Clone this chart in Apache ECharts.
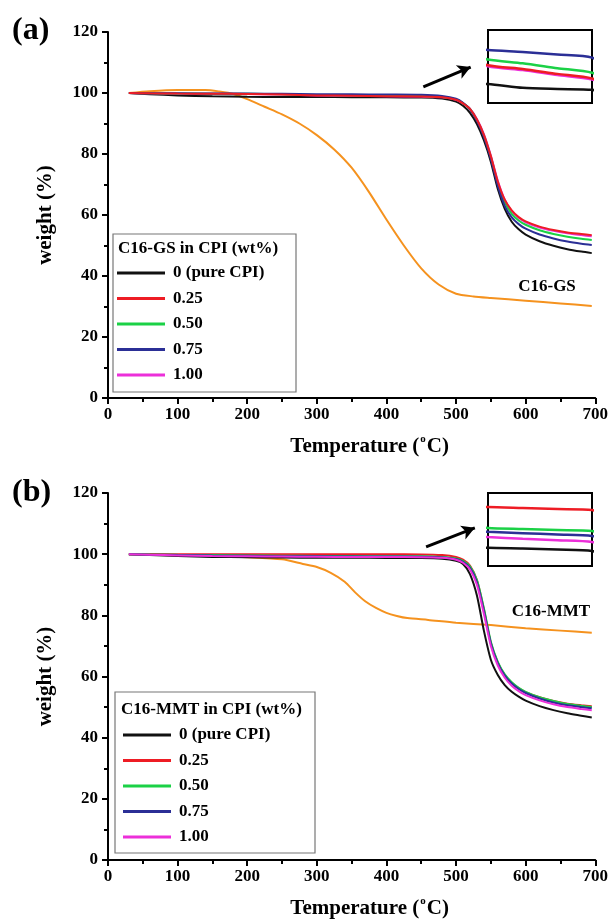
<!DOCTYPE html>
<html>
<head>
<meta charset="utf-8">
<script src="https://cdn.jsdelivr.net/npm/echarts@6/dist/echarts.min.js"></script>
<style>
  html, body { margin: 0; padding: 0; background: #fff; }
  #chart { width: 611px; height: 922px; }
</style>
</head>
<body>
<div id="chart"></div>
<script>
// temperature grid shared by the CPI curves (°C)
var temps = [30, 60, 100, 150, 200, 250, 300, 350, 400, 450, 480, 500, 510, 520, 530, 540, 550, 560, 570, 580, 590, 600, 620, 640, 660, 680, 695];

// (a) C16-GS in CPI, weight %
var gsCpi0   = [100, 99.6, 99.2, 98.9, 98.75, 98.72, 98.7, 98.6, 98.57, 98.55, 98.2, 97.2, 95.8, 93.5, 89.8, 84.5, 77.5, 68.5, 62, 57.8, 55.3, 53.6, 51.4, 49.9, 48.8, 48, 47.5];
var gsCpi025 = [100, 99.9, 99.8, 99.75, 99.7, 99.5, 99.2, 99.1, 98.97, 98.85, 98.6, 97.8, 96.6, 94.8, 91.3, 86.3, 79.3, 71, 65, 61.5, 59.3, 57.9, 56.2, 55.1, 54.3, 53.8, 53.4];
var gsCpi050 = [100, 99.88, 99.82, 99.78, 99.72, 99.55, 99.35, 99.25, 99.12, 99.0, 98.7, 97.9, 96.7, 94.8, 91.2, 86.1, 79, 70.5, 64.2, 60.4, 58.2, 56.8, 55, 53.8, 52.9, 52.2, 51.8];
var gsCpi075 = [100, 99.92, 99.88, 99.84, 99.8, 99.72, 99.6, 99.55, 99.48, 99.4, 99.0, 98.1, 96.8, 94.6, 90.9, 85.6, 78.4, 69.6, 63, 59.2, 57, 55.5, 53.6, 52.3, 51.3, 50.6, 50.2];
var gsCpi100 = [100, 99.9, 99.8, 99.74, 99.68, 99.48, 99.17, 99.07, 98.94, 98.82, 98.6, 97.8, 96.6, 94.9, 91.5, 86.5, 79.5, 71.2, 65, 61.3, 59.1, 57.6, 55.9, 54.8, 54.0, 53.4, 53.0];
var gsTemps  = [30, 60, 100, 140, 160, 180, 200, 225, 250, 275, 300, 325, 350, 375, 400, 425, 450, 475, 500, 525, 550, 600, 650, 695];
var gsPure   = [100, 100.6, 101, 101, 100.5, 99.7, 98, 95.5, 93, 90, 86.2, 81.5, 75.5, 67.5, 58.5, 50, 42.5, 37.2, 34.2, 33.3, 32.8, 31.9, 31, 30.2];

// (b) C16-MMT in CPI, weight %
var mmtCpi0   = [100, 99.7, 99.4, 99.1, 99.0, 98.9, 98.83, 98.81, 98.78, 98.74, 98.5, 97.8, 96.8, 93.5, 86.5, 75, 65.5, 60.5, 57.2, 55, 53.4, 52.1, 50.3, 49, 48, 47.2, 46.6];
var mmtCpi025 = [100, 100, 100, 100, 100, 100, 100.0, 99.97, 99.94, 99.91, 99.7, 99.1, 98.2, 96.3, 91.5, 82, 71, 64.5, 60.5, 58, 56.2, 54.9, 53.2, 52, 51.1, 50.6, 50.3];
var mmtCpi050 = [100, 99.9, 99.8, 99.7, 99.6, 99.5, 99.4, 99.37, 99.34, 99.31, 99.1, 98.6, 97.8, 96, 91.5, 82.3, 71.4, 64.8, 60.7, 58.1, 56.3, 55, 53.2, 52, 51, 50.4, 50.0];
var mmtCpi075 = [100, 99.85, 99.7, 99.55, 99.45, 99.35, 99.29, 99.25, 99.21, 99.17, 98.95, 98.4, 97.5, 95.5, 90.8, 81.5, 70.8, 64.3, 60.3, 57.7, 55.9, 54.6, 52.8, 51.5, 50.6, 50, 49.6];
var mmtCpi100 = [100, 99.8, 99.6, 99.4, 99.3, 99.2, 99.14, 99.09, 99.05, 99.0, 98.8, 98.2, 97.2, 95, 90, 80.5, 70, 63.6, 59.6, 57, 55.2, 53.9, 52.2, 50.9, 50, 49.4, 49.0];
var mmtTemps  = [30, 60, 100, 150, 200, 250, 280, 300, 320, 340, 355, 370, 385, 400, 415, 430, 460, 500, 550, 600, 650, 695];
var mmtPure   = [100, 99.9, 99.7, 99.4, 99, 98.3, 96.8, 95.8, 93.9, 91, 87.5, 84.5, 82.4, 80.8, 79.8, 79.1, 78.5, 77.6, 76.8, 75.8, 75, 74.3];

var names  = ['0 (pure CPI)', '0.25', '0.50', '0.75', '1.00'];
var colors = ['#111111', '#ee1c24', '#1bd146', '#2b2f96', '#ec2fd9'];
var orange = '#f5921e';

var FONT = 'Liberation Serif';

function pairs(xs, ys) {
  return xs.map(function (x, i) { return [x, ys[i]]; });
}

function line(name, color, xs, ys, axis, width, z) {
  return {
    name: name,
    type: 'line',
    xAxisIndex: axis,
    yAxisIndex: axis,
    data: pairs(xs, ys),
    symbol: 'none',
    smooth: 0.25,
    clip: true,
    z: z || 2,
    lineStyle: { color: color, width: width },
    itemStyle: { color: color }
  };
}

function mainX(grid) {
  return {
    gridIndex: grid, type: 'value', min: 0, max: 700, interval: 100,
    axisLine: { lineStyle: { color: '#000', width: 2 } },
    axisTick: { inside: false, length: 6, lineStyle: { width: 2 } },
    minorTick: { show: true, splitNumber: 2, length: 4, lineStyle: { color: '#000', width: 2 } },
    splitLine: { show: false },
    axisLabel: { color: '#000', fontFamily: FONT, fontWeight: 'bold', fontSize: 17, margin: 8 },
    name: '{n|Temperature (}{s|o}{n|C)}',
    nameLocation: 'middle',
    nameGap: 36,
    nameTextStyle: {
      padding: [0, 0, 0, 36],
      rich: {
        n: { fontFamily: FONT, fontWeight: 'bold', fontSize: 21, color: '#000' },
        s: { fontFamily: FONT, fontWeight: 'bold', fontSize: 11, color: '#000', padding: [0, 1, 14, 1] }
      }
    }
  };
}

function mainY(grid) {
  return {
    gridIndex: grid, type: 'value', min: 0, max: 120, interval: 20,
    axisLine: { show: true, lineStyle: { color: '#000', width: 2 } },
    axisTick: { show: true, inside: false, length: 6, lineStyle: { width: 2 } },
    minorTick: { show: true, splitNumber: 2, length: 4, lineStyle: { color: '#000', width: 2 } },
    splitLine: { show: false },
    axisLabel: { color: '#000', fontFamily: FONT, fontWeight: 'bold', fontSize: 17, margin: 10 },
    name: 'weight (%)',
    nameLocation: 'middle',
    nameGap: 52,
    nameTextStyle: { fontFamily: FONT, fontWeight: 'bold', fontSize: 21, color: '#000' }
  };
}

function insetAxis(grid, min, max) {
  return { gridIndex: grid, type: 'value', min: min, max: max, show: false, splitLine: { show: false } };
}

function arrow(from, to) {
  return {
    silent: true,
    symbol: ['none', 'arrow'],
    symbolSize: [11, 13],
    label: { show: false },
    lineStyle: { color: '#000', width: 3, type: 'solid' },
    data: [[{ coord: from }, { coord: to }]]
  };
}

var seriesList = [];
// panel (a)
var gsSets = [gsCpi0, gsCpi100, gsCpi050, gsCpi075, gsCpi025];
var gsIdx = [0, 4, 2, 3, 1];
gsSets.forEach(function (vals, k) {
  var i = gsIdx[k];
  seriesList.push(line(names[i], colors[i], temps, vals, 0, 2));
  seriesList.push(line(names[i], colors[i], temps, vals, 1, 2.5));
});
var gsOrange = line('C16-GS', orange, gsTemps, gsPure, 0, 2, 1);
gsOrange.markLine = arrow([453, 102], [521, 108.5]);
seriesList.push(gsOrange);

// panel (b)
var mmtSets = [mmtCpi0, mmtCpi025, mmtCpi050, mmtCpi075, mmtCpi100];
mmtSets.forEach(function (vals, i) {
  seriesList.push(line(names[i], colors[i], temps, vals, 2, 2));
  seriesList.push(line(names[i], colors[i], temps, vals, 3, 2.5));
});
var mmtOrange = line('C16-MMT', orange, mmtTemps, mmtPure, 2, 2, 1);
mmtOrange.markLine = arrow([457, 102.4], [527, 108.6]);
seriesList.push(mmtOrange);

function legend(left, top) {
  return {
    data: names,
    orient: 'vertical',
    left: left,
    top: top,
    padding: 0,
    icon: 'rect',
    itemWidth: 48,
    itemHeight: 3,
    itemGap: 7.5,
    selectedMode: false,
    textStyle: { fontFamily: FONT, fontWeight: 'bold', fontSize: 17, lineHeight: 18, color: '#000', padding: [0, 0, 0, 3] }
  };
}

function label(text, x, y, size, align) {
  return {
    type: 'text', x: x, y: y, z: 10,
    style: { text: text, fill: '#000', font: 'bold ' + size + 'px "' + FONT + '"', align: align || 'left', verticalAlign: 'middle' }
  };
}

var chart = echarts.init(document.getElementById('chart'), null, { renderer: 'canvas' });
chart.setOption({
  animation: false,
  backgroundColor: '#fff',
  grid: [
    { left: 108, top: 32, width: 490, height: 366 },
    { left: 488, top: 30, width: 104, height: 73, show: true, borderColor: '#000', borderWidth: 2, backgroundColor: '#fff' },
    { left: 108, top: 493, width: 490, height: 367 },
    { left: 488, top: 493, width: 104, height: 73, show: true, borderColor: '#000', borderWidth: 2, backgroundColor: '#fff' }
  ],
  xAxis: [mainX(0), insetAxis(1, 300, 450), mainX(2), insetAxis(3, 300, 450)],
  yAxis: [mainY(0), insetAxis(1, 98.2, 100.13), mainY(2), insetAxis(3, 98.31, 100.4)],
  legend: [legend(117, 264), legend(123, 726)],
  series: seriesList,
  graphic: [
    { type: 'rect', shape: { x: 113, y: 234, width: 183, height: 158 }, z: 0, style: { fill: '#fff', stroke: '#777', lineWidth: 1.2 } },
    { type: 'rect', shape: { x: 115, y: 692, width: 200, height: 161 }, z: 0, style: { fill: '#fff', stroke: '#777', lineWidth: 1.2 } },
    label('C16-GS in CPI (wt%)', 118, 249, 17),
    label('C16-MMT in CPI (wt%)', 121, 710, 17),
    label('(a)', 12, 31, 32),
    label('(b)', 12, 493, 32),
    label('C16-GS', 547, 287, 17, 'center'),
    label('C16-MMT', 551, 612, 17, 'center')
  ]
});
</script>
</body>
</html>
